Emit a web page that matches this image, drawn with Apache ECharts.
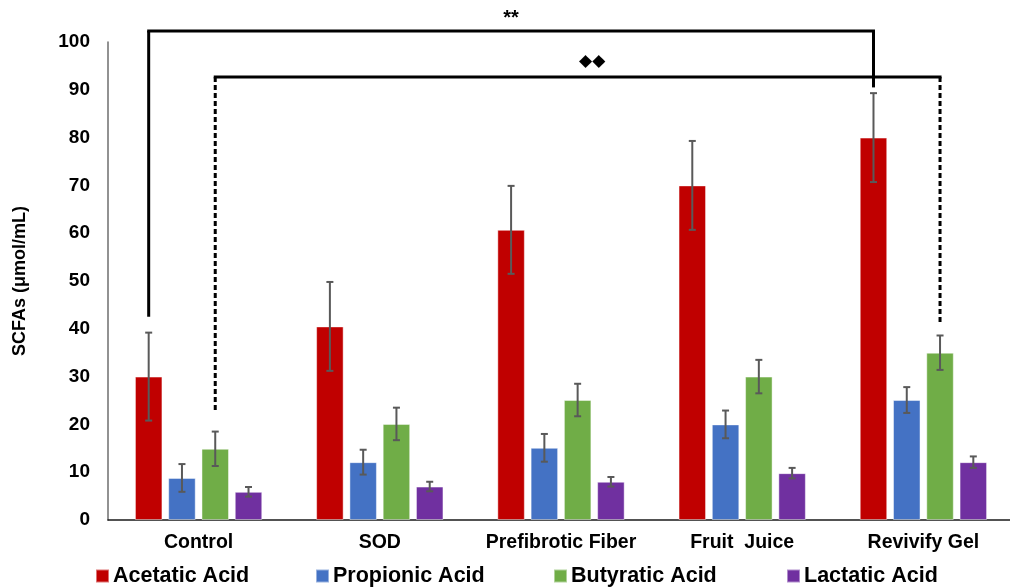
<!DOCTYPE html>
<html><head><meta charset="utf-8">
<script src="https://cdn.jsdelivr.net/npm/echarts@6/dist/echarts.min.js"></script>
<style>html,body{margin:0;padding:0;background:#fff}#c{width:1010px;height:588px}</style>
</head><body><div id="c"></div>
<script>
// ---- data ----
const categories = ['Control', 'SOD', 'Prefibrotic Fiber', 'Fruit  Juice', 'Revivify Gel'];
const seriesNames = ['Acetatic Acid', 'Propionic Acid', 'Butyratic Acid', 'Lactatic Acid'];
const acetatic     = [30.0, 40.5, 60.7, 70.0, 80.0];
const acetaticErr  = [9.2, 9.3, 9.2, 9.3, 9.3];
const propionic    = [8.8, 12.1, 15.1, 20.0, 25.1];
const propionicErr = [2.9, 2.6, 2.9, 2.9, 2.7];
const butyratic    = [14.9, 20.1, 25.1, 30.0, 35.0];
const butyraticErr = [3.6, 3.4, 3.4, 3.5, 3.6];
const lactatic     = [5.9, 7.0, 8.0, 9.8, 12.1];
const lactaticErr  = [1.0, 1.0, 1.0, 1.1, 1.2];
const yMin = 0, yMax = 100, yStep = 10;
// significance brackets: [category, series] endpoints, level and leg ends in data units
const sigLabels = ['**', '\u25C6\u25C6'];
const sigFrom   = [[0, 0], [0, 2]];
const sigTo     = [[4, 0], [4, 2]];
const sigLevel  = [102.3, 92.7];
const sigFromEnd = [42.5, 22.4];
const sigToEnd   = [90.5, 40.8];

// ---- styles ----
const colors = ['#C00000', '#4472C4', '#70AD47', '#7030A0'];
const FONT = 'Liberation Sans, Arial, sans-serif';
const BAR_W = 27.5, BAR_GAP = 0.21;
const STEP = BAR_W * (1 + BAR_GAP);
const off = s => (s - 1.5) * STEP;

const values = [acetatic, propionic, butyratic, lactatic];
const errs = [acetaticErr, propionicErr, butyraticErr, lactaticErr];

const chart = echarts.init(document.getElementById('c'), null, {renderer: 'canvas'});

const barSeries = seriesNames.map((n, s) => ({
  name: n, type: 'bar', barWidth: BAR_W, barGap: (BAR_GAP * 100) + '%',
  data: values[s],
  itemStyle: {color: colors[s], borderColor: 'rgba(255,255,255,0.45)', borderWidth: 1},
  z: 2
}));

const errSeries = seriesNames.map((n, s) => ({
  type: 'custom', z: 3, silent: true,
  data: values[s].map((v, i) => [i, v - errs[s][i], v + errs[s][i]]),
  encode: {x: 0, y: [1, 2]},
  renderItem: (params, api) => {
    const lo = api.coord([api.value(0), api.value(1)]);
    const hi = api.coord([api.value(0), api.value(2)]);
    const x = lo[0] + off(s);
    const c = 3.5;
    const st = {stroke: '#595959', lineWidth: 2};
    return {type: 'group', children: [
      {type: 'line', shape: {x1: x, y1: lo[1], x2: x, y2: hi[1]}, style: st},
      {type: 'line', shape: {x1: x - c, y1: lo[1], x2: x + c, y2: lo[1]}, style: st},
      {type: 'line', shape: {x1: x - c, y1: hi[1], x2: x + c, y2: hi[1]}, style: st}
    ]};
  }
}));

const bracketSeries = {
  type: 'custom', z: 4, silent: true, clip: false,
  data: sigLabels.map((l, i) => [sigFrom[i][0], sigLevel[i]]),
  encode: {x: 0, y: 1},
  renderItem: (params, api) => {
    const i = params.dataIndex;
    const dashed = i === 1;
    const xL = api.coord([sigFrom[i][0], 0])[0] + off(sigFrom[i][1]);
    const xR = api.coord([sigTo[i][0], 0])[0] + off(sigTo[i][1]);
    const yT = api.coord([0, sigLevel[i]])[1];
    const yL = api.coord([0, sigFromEnd[i]])[1];
    const yR = api.coord([0, sigToEnd[i]])[1];
    const solid = {stroke: '#000', lineWidth: 3};
    const leg = dashed ? {stroke: '#000', lineWidth: 3, lineDash: [5, 3]} : solid;
    const lx = dashed ? xL + (xR - xL) * 0.52 : xL + (xR - xL) * 0.5;
    return {type: 'group', children: [
      {type: 'line', shape: {x1: xL - 1.5, y1: yT, x2: xR + 1.5, y2: yT}, style: solid},
      {type: 'line', shape: {x1: xL, y1: yT, x2: xL, y2: yL}, style: leg},
      {type: 'line', shape: {x1: xR, y1: yT, x2: xR, y2: yR}, style: leg},
      {type: 'text', x: lx, y: yT - (dashed ? 15 : 13), style: {
        text: sigLabels[i], fill: '#000', align: 'center', verticalAlign: 'middle',
        font: dashed ? 'bold 17px DejaVu Sans' : 'bold 20px ' + FONT}}
    ]};
  }
};

const legendLefts = [95, 315, 553, 786];
const legends = seriesNames.map((n, s) => ({
  data: [{name: n, icon: 'rect'}], left: legendLefts[s], top: 565, padding: 0,
  itemWidth: 13, itemHeight: 13, itemGap: 0,
  textStyle: {fontFamily: FONT, fontWeight: 'bold', fontSize: 21.5, color: '#000', padding: [0, 0, 0, -1]}
}));

chart.setOption({
  animation: false,
  color: colors,
  legend: legends,
  grid: {left: 108, top: 42, width: 906, height: 478, containLabel: false, outerBoundsMode: 'none'},
  xAxis: {
    type: 'category', data: categories,
    axisLine: {lineStyle: {color: '#1a1a1a', width: 1.5}},
    axisTick: {show: false},
    axisLabel: {interval: 0, fontFamily: FONT, fontWeight: 'bold', fontSize: 19.5, color: '#000', margin: 13}
  },
  yAxis: {
    type: 'value', min: yMin, max: yMax, interval: yStep,
    name: 'SCFAs (\u03BCmol/mL)', nameLocation: 'middle', nameGap: 79,
    nameTextStyle: {fontFamily: FONT, fontWeight: 'bold', fontSize: 18, color: '#000'},
    axisLine: {show: true, lineStyle: {color: '#6e6e6e', width: 1.5}},
    axisTick: {show: false},
    splitLine: {show: false},
    axisLabel: {fontFamily: FONT, fontWeight: 'bold', fontSize: 19, color: '#000', margin: 18}
  },
  series: [...barSeries, ...errSeries, bracketSeries]
});
</script></body></html>
